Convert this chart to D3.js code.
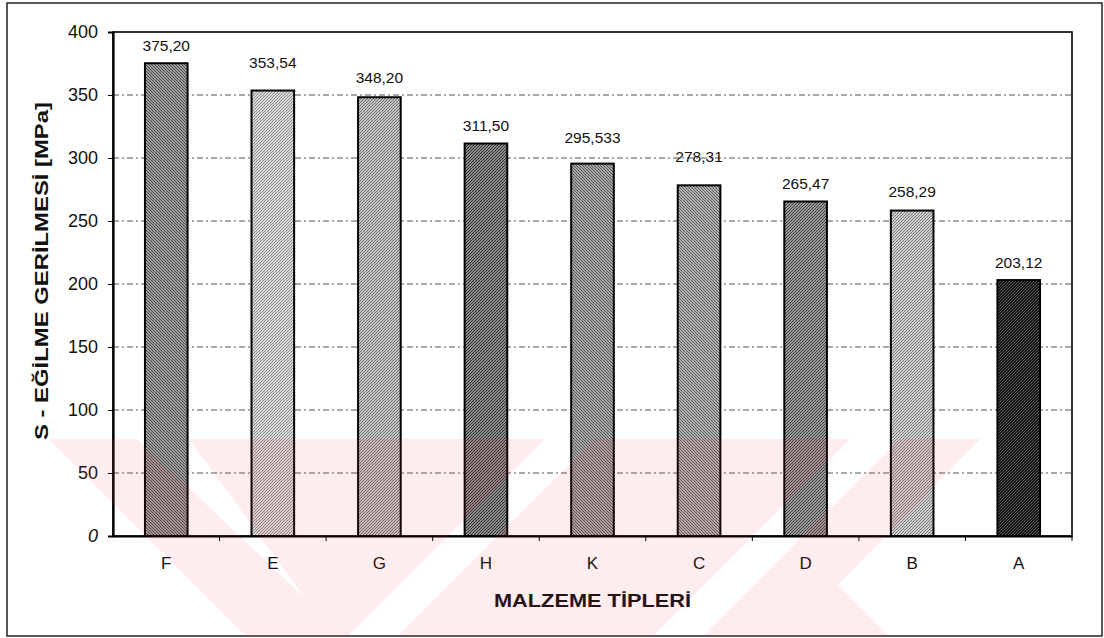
<!DOCTYPE html>
<html>
<head>
<meta charset="utf-8">
<script src="https://cdn.jsdelivr.net/npm/d3@7"></script>
<style>
  html, body { margin: 0; padding: 0; background: #fff; }
  svg { display: block; font-family: Arial, "Liberation Sans", sans-serif; }
</style>
</head>
<body>
<svg id="chart" width="1104" height="638"></svg>
<script>
// ---- data ----
const categories = ["F", "E", "G", "H", "K", "C", "D", "B", "A"];
const values = [375.20, 353.54, 348.20, 311.50, 295.533, 278.31, 265.47, 258.29, 203.12];
const valueLabels = ["375,20", "353,54", "348,20", "311,50", "295,533", "278,31", "265,47", "258,29", "203,12"];
const yTicks = [0, 50, 100, 150, 200, 250, 300, 350, 400];
const xTitle = "MALZEME TİPLERİ";
const yTitle = "S - EĞİLME GERİLMESİ [MPa]";

// ---- styles ----
const labelLift = [12.5, 23, 14, 13, 21, 23, 13, 14, 12.5];
const barStyles = [
  { type: "diag", base: "#9c9c9c", ink: "#424242" },
  { type: "dots", base: "#dadada", ink: "#8a8a8a" },
  { type: "dots", base: "#c4c4c4", ink: "#707070" },
  { type: "dots", base: "#8c8c8c", ink: "#2e2e2e" },
  { type: "diag", base: "#a8a8a8", ink: "#4a4a4a" },
  { type: "diag", base: "#b0b0b0", ink: "#525252" },
  { type: "dots", base: "#9a9a9a", ink: "#3e3e3e" },
  { type: "dots", base: "#d0d0d0", ink: "#767676" },
  { type: "dots", base: "#141414", ink: "#5a5a5a" }
];
const watermarkShapes = [
  [[49,439],[137,439],[305,598],[189,439],[545,439],[347,637],[247,637]],
  [[595,439],[850,439],[652,637],[397,637]],
  [[900,439],[980,439],[838,585],[890,637],[702,637]]
];

const W = 1104, H = 638;
const plot = { left: 113, right: 1072, top: 32, bottom: 536 };

const svg = d3.select("#chart");
svg.append("rect").attr("width", W).attr("height", H).attr("fill", "#fff");

// patterns
const defs = svg.append("defs");
barStyles.forEach((s, i) => {
  const p = defs.append("pattern")
    .attr("id", "pat" + i)
    .attr("patternUnits", "userSpaceOnUse")
    .attr("width", 3).attr("height", 3);
  p.append("rect").attr("width", 3).attr("height", 3).attr("fill", s.base);
  if (s.type === "diag") {
    p.append("path")
      .attr("d", "M0,0 L3,3 M-1,2 L1,4 M2,-1 L4,1")
      .attr("stroke", s.ink).attr("stroke-width", 0.9);
  } else {
    p.append("rect").attr("x", 0).attr("y", 0).attr("width", 1).attr("height", 1).attr("fill", s.ink);
    p.append("rect").attr("x", 2).attr("y", 1).attr("width", 1).attr("height", 1).attr("fill", s.ink);
    p.append("rect").attr("x", 1).attr("y", 2).attr("width", 1).attr("height", 1).attr("fill", s.ink);
  }
});

// scales
const x = d3.scaleBand().domain(categories)
  .range([plot.left, plot.right]).paddingInner(0.6).paddingOuter(0.3);
const y = d3.scaleLinear().domain([0, 400]).range([plot.bottom, plot.top]);

// outer frame
svg.append("rect")
  .attr("x", 7).attr("y", 3).attr("width", 1095).attr("height", 633)
  .attr("fill", "none").attr("stroke", "#222").attr("stroke-width", 1.5);

// gridlines
svg.append("g").selectAll("line")
  .data(yTicks.filter(t => t > 0 && t < 400))
  .join("line")
  .attr("x1", plot.left).attr("x2", plot.right)
  .attr("y1", d => y(d)).attr("y2", d => y(d))
  .attr("stroke", "#555").attr("stroke-width", 1)
  .attr("stroke-dasharray", "6,3,2,3");

// plot border
svg.append("rect")
  .attr("x", plot.left).attr("y", plot.top)
  .attr("width", plot.right - plot.left).attr("height", plot.bottom - plot.top)
  .attr("fill", "none").attr("stroke", "#000").attr("stroke-width", 1.6);

// bars
svg.append("g").selectAll("rect")
  .data(values)
  .join("rect")
  .attr("x", (d, i) => x(categories[i]))
  .attr("width", x.bandwidth())
  .attr("y", d => y(d))
  .attr("height", d => y(0) - y(d))
  .attr("fill", (d, i) => "url(#pat" + i + ")")
  .attr("stroke", "#000").attr("stroke-width", 2);

// value labels
svg.append("g").selectAll("text")
  .data(values)
  .join("text")
  .attr("x", (d, i) => x(categories[i]) + x.bandwidth() / 2)
  .attr("y", (d, i) => y(d) - labelLift[i])
  .attr("text-anchor", "middle")
  .attr("font-size", 15.5)
  .attr("fill", "#111")
  .text((d, i) => valueLabels[i]);

// y axis
const yAxis = svg.append("g")
  .attr("transform", `translate(${plot.left},0)`)
  .call(d3.axisLeft(y).tickValues(yTicks).tickSize(5).tickPadding(10).tickFormat(d => d));
yAxis.select(".domain").attr("stroke", "#000").attr("stroke-width", 2.2);
yAxis.selectAll(".tick line").attr("stroke", "#000");
yAxis.selectAll(".tick text")
  .attr("font-size", 18).attr("fill", "#111")
  .attr("font-family", "Arial, 'Liberation Sans', sans-serif")
  .attr("font-style", d => d === 0 ? "italic" : "normal");

// x axis
const xAxis = svg.append("g")
  .attr("transform", `translate(0,${plot.bottom})`)
  .call(d3.axisBottom(x).tickSize(0).tickPadding(21));
xAxis.select(".domain").attr("stroke", "#000").attr("stroke-width", 2.2);
xAxis.selectAll(".tick text")
  .attr("font-size", 17).attr("fill", "#111")
  .attr("font-family", "Arial, 'Liberation Sans', sans-serif");

// boundary ticks
const half = x.step() * x.paddingInner() / 2;
svg.append("g").selectAll("line")
  .data(categories)
  .join("line")
  .attr("x1", d => x(d) + x.bandwidth() + half)
  .attr("x2", d => x(d) + x.bandwidth() + half)
  .attr("y1", plot.bottom).attr("y2", plot.bottom + 5)
  .attr("stroke", "#000").attr("stroke-width", 1);

// titles
svg.append("text")
  .attr("x", (plot.left + plot.right) / 2).attr("y", 607)
  .attr("text-anchor", "middle")
  .attr("font-size", 19).attr("font-weight", "bold").attr("fill", "#111")
  .attr("textLength", 197).attr("lengthAdjust", "spacingAndGlyphs")
  .text(xTitle);

svg.append("text")
  .attr("transform", "translate(48,271) rotate(-90)")
  .attr("text-anchor", "middle")
  .attr("font-size", 18).attr("font-weight", "bold").attr("fill", "#111")
  .attr("textLength", 338).attr("lengthAdjust", "spacingAndGlyphs")
  .text(yTitle);

// watermark overlay
svg.append("g").attr("pointer-events", "none")
  .selectAll("polygon")
  .data(watermarkShapes)
  .join("polygon")
  .attr("points", d => d.map(p => p.join(",")).join(" "))
  .attr("fill", "#e8364f").attr("fill-opacity", 0.09);
</script>
</body>
</html>
